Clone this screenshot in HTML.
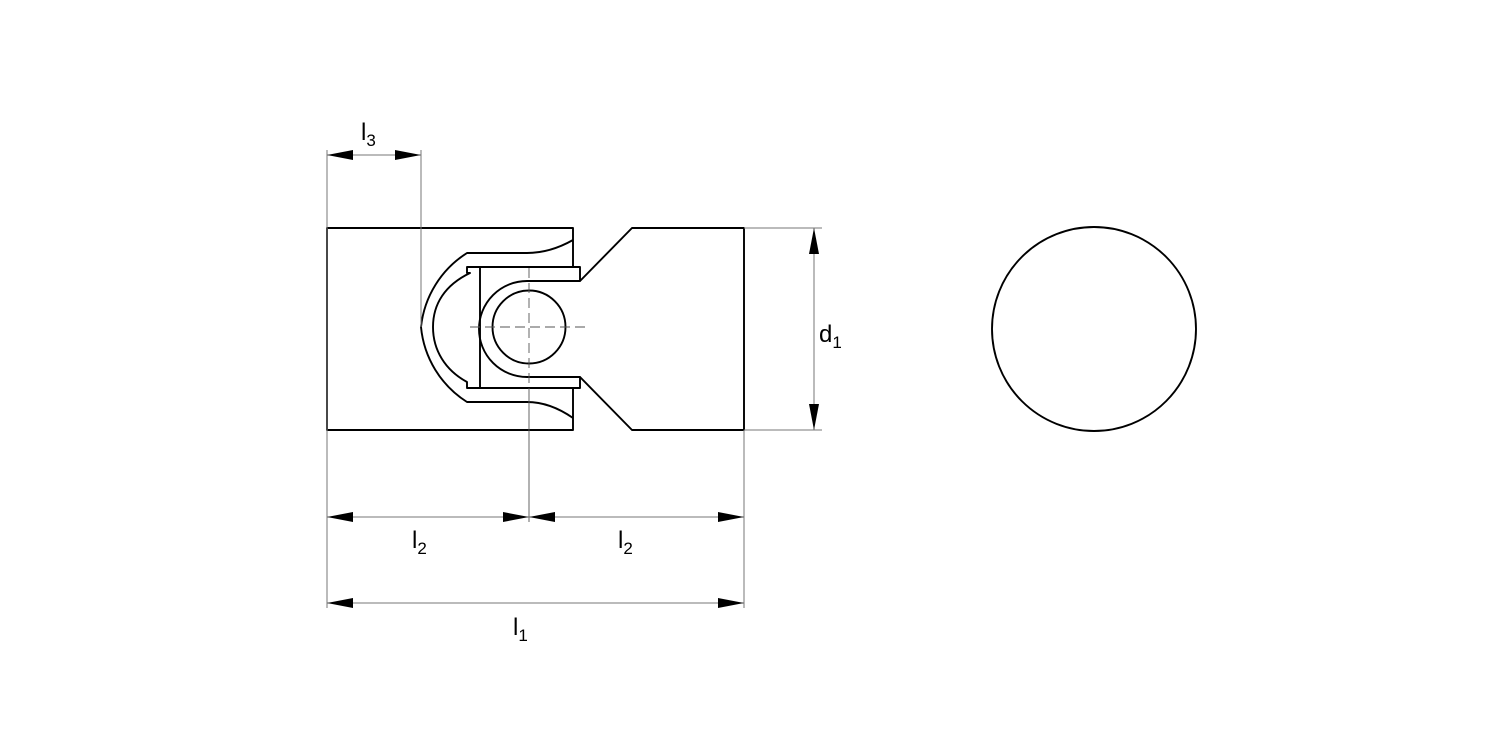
<!DOCTYPE html>
<html><head><meta charset="utf-8"><style>
html,body{margin:0;padding:0;background:#fff}
text{font-family:"Liberation Sans",Arial,sans-serif;fill:#000}
</style></head><body>
<svg width="1500" height="750" viewBox="0 0 1500 750" xmlns="http://www.w3.org/2000/svg">
<g fill="none" stroke="#000" stroke-width="1.9" stroke-linejoin="round">
<path d="M573 267 L573 228 L327 228 L327 430 L573 430 L573 388"/>
<path d="M573 240 Q550 253 527 253 L467 253 A100 100 0 0 0 421 327 A100 100 0 0 0 467 402 L527 402 Q550 402 573 418"/>
<path d="M467 388 L467 382 C445 370 433 350 433 327 C433 304 445 285 470 273 L467 273 L467 267 L580 267 L580 281 L527 281 A46 46 0 0 0 527 377 L580 377 L580 388 Z"/>
<line x1="480" y1="267" x2="480" y2="388"/>
<circle cx="529" cy="327" r="36.5"/>
<path d="M580 281 L632 228 L744 228 L744 430 L632 430 L580 377"/>
<circle cx="1094" cy="329" r="102"/>
</g>
<g stroke="#555" stroke-width="0.9" fill="none">
<line x1="470" y1="327" x2="590" y2="327" stroke-dasharray="10,5"/>
<line x1="529" y1="268" x2="529" y2="390" stroke-dasharray="10,5"/>
<line x1="529" y1="390" x2="529" y2="522"/>
</g>
<g stroke="#777" stroke-width="1" fill="none">
<line x1="327" y1="150" x2="327" y2="608"/>
<line x1="421" y1="150" x2="421" y2="327"/>
<line x1="744" y1="430" x2="744" y2="608"/>
<line x1="744" y1="228" x2="822" y2="228"/>
<line x1="744" y1="430" x2="822" y2="430"/>
<line x1="327" y1="155" x2="421" y2="155"/>
<line x1="327" y1="517" x2="744" y2="517"/>
<line x1="327" y1="603" x2="744" y2="603"/>
<line x1="814" y1="228" x2="814" y2="430"/>
</g>
<g fill="#000">
<polygon points="327,155 353,150 353,160"/>
<polygon points="421,155 395,150 395,160"/>
<polygon points="327,517 353,512 353,522"/>
<polygon points="529,517 503,512 503,522"/>
<polygon points="529,517 555,512 555,522"/>
<polygon points="744,517 718,512 718,522"/>
<polygon points="327,603 353,598 353,608"/>
<polygon points="744,603 718,598 718,608"/>
<polygon points="814,228 809,254 819,254"/>
<polygon points="814,430 809,404 819,404"/>
</g>
<g font-size="24">
<text x="361" y="140">l<tspan font-size="17" dy="6">3</tspan></text>
<text x="412" y="548">l<tspan font-size="17" dy="6">2</tspan></text>
<text x="618" y="548">l<tspan font-size="17" dy="6">2</tspan></text>
<text x="513" y="635">l<tspan font-size="17" dy="6">1</tspan></text>
<text x="819" y="342">d<tspan font-size="17" dy="6">1</tspan></text>
</g>
</svg>
</body></html>
